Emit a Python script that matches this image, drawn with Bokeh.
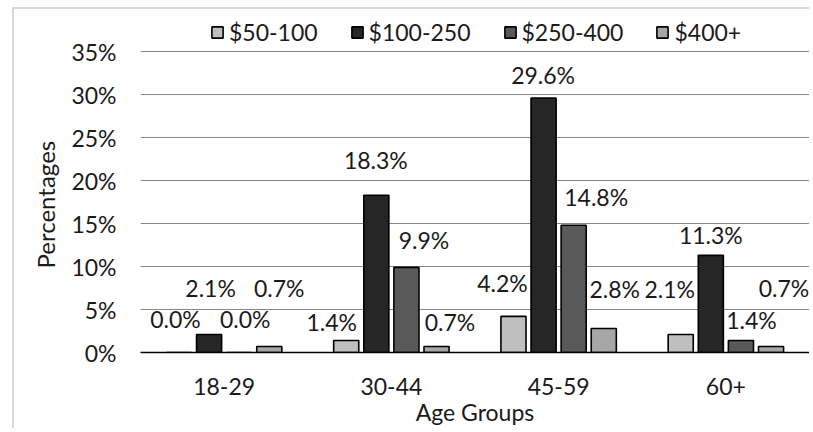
from bokeh.plotting import figure
from bokeh.models import (ColumnDataSource, FactorRange, Range1d, Legend, LegendItem,
                          CustomJSTickFormatter, FixedTicker, Title)
from bokeh.transform import dodge
from bokeh.embed import file_html
from bokeh.resources import INLINE

# Survey shares (%) by age group and spending bracket
age_groups = ["18-29", "30-44", "45-59", "60+"]
brackets = ["$50-100", "$100-250", "$250-400", "$400+"]
spend_50_100 = [0.0, 1.4, 4.2, 2.1]
spend_100_250 = [2.1, 18.3, 29.6, 11.3]
spend_250_400 = [0.0, 9.9, 14.8, 1.4]
spend_400_plus = [0.7, 0.7, 2.8, 0.7]
y_ticks = [0, 5, 10, 15, 20, 25, 30, 35]

series = [spend_50_100, spend_100_250, spend_250_400, spend_400_plus]
colors = ["#bfbfbf", "#262626", "#595959", "#a6a6a6"]
offsets = [-0.27, -0.09, 0.09, 0.27]

# label nudges in pixels (x right, y down), one row per bracket
label_dx = [[-3.5, -14.5, -11, -11],
            [1.5, -0.5, -0.5, 0],
            [6, 17.5, 22.5, 10.5],
            [10, 13.5, 11, 13]]
label_dy = [[-34, -18, -33, -45],
            [-46, -35, -23, -20],
            [-34, -27, -28, -20],
            [-58, -24, -39, -58]]

FONT = "Lato"
SIZE = "23px"
INK = "#1a1a1a"

# the frame reaches above the 35% line to leave room for the legend
p = figure(x_range=FactorRange(*age_groups), y_range=Range1d(0, 39.2),
           width=797, height=421, output_backend="svg", toolbar_location=None,
           min_border_left=126, min_border_right=2, min_border_top=6,
           min_border_bottom=78)
p.styles = {"margin-left": "12px", "margin-top": "7px",
            "border-left": "2px solid #d9d9d9", "border-top": "2px solid #d9d9d9"}
p.outline_line_color = None
p.background_fill_color = "white"
p.border_fill_color = "white"

items = []
for i, vals in enumerate(series):
    src = ColumnDataSource(dict(
        age=age_groups, value=vals,
        text=[f"{v:.1f}%" for v in vals],
        dx=label_dx[i], dy=label_dy[i]))
    r = p.vbar(x=dodge("age", offsets[i], range=p.x_range), top="value", width=0.15,
               source=src, fill_color=colors[i], line_color="black", line_width=1.6)
    p.text(x=dodge("age", offsets[i], range=p.x_range), y="value", text="text",
           source=src, x_offset="dx", y_offset="dy", text_align="center",
           text_baseline="middle", text_font={"value": FONT},
           text_font_size=SIZE, text_color=INK)
    items.append(LegendItem(label=brackets[i], renderers=[r]))

legend = Legend(items=items, orientation="horizontal", location=(70, 306),
                glyph_width=14, glyph_height=14, label_standoff=5, spacing=32,
                padding=0, margin=0, border_line_alpha=0, background_fill_alpha=0,
                label_text_font=FONT, label_text_font_size=SIZE,
                label_text_color=INK)
p.add_layout(legend)

p.ygrid.ticker = FixedTicker(ticks=y_ticks)
p.ygrid.grid_line_color = "#868686"
p.ygrid.grid_line_width = 1.2
p.xgrid.grid_line_color = None

p.yaxis.ticker = FixedTicker(ticks=y_ticks)
p.yaxis.formatter = CustomJSTickFormatter(code="return tick + '%';")
p.yaxis.axis_line_color = None
p.yaxis.major_tick_line_color = None
p.yaxis.minor_tick_line_color = None
p.yaxis.major_label_standoff = 18

# y-axis title, placed along the 0-35% span rather than the whole frame
ytitle = Title(text="Percentages", align="left", offset=84, standoff=18,
               text_font=FONT, text_font_size="24px", text_font_style="normal",
               text_color=INK)
p.add_layout(ytitle, "left")

p.xaxis.axis_line_color = "black"
p.xaxis.axis_line_width = 1.5
p.xaxis.major_tick_line_color = None
p.xaxis.major_label_standoff = 19
p.xaxis.axis_label = "Age Groups"
p.xaxis.axis_label_standoff = 0

for ax in (p.xaxis[0], p.yaxis[0]):
    ax.major_label_text_font = FONT
    ax.major_label_text_font_size = SIZE
    ax.major_label_text_color = INK
    ax.axis_label_text_font = FONT
    ax.axis_label_text_font_size = SIZE
    ax.axis_label_text_font_style = "normal"
    ax.axis_label_text_color = INK

open("out.html", "w").write(file_html(p, INLINE))
